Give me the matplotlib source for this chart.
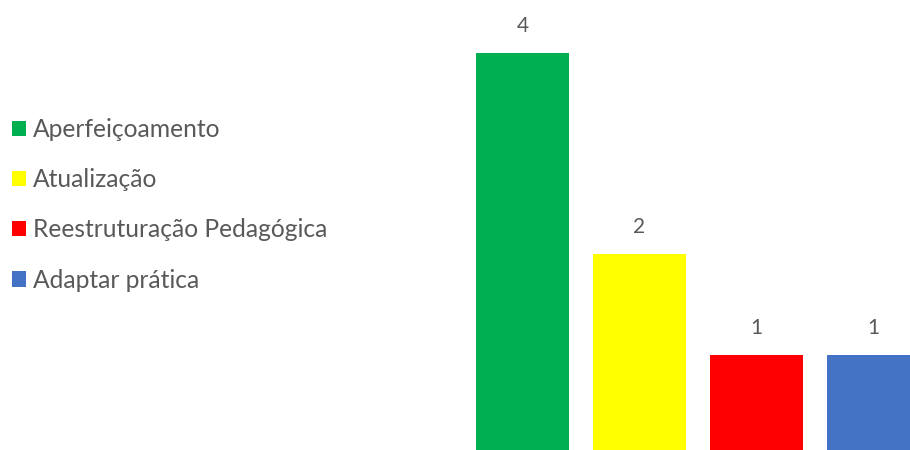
import numpy as np
import matplotlib.pyplot as plt

categories = ['Aperfeiçoamento', 'Atualização', 'Reestruturação Pedagógica', 'Adaptar prática']
counts = [4, 2, 1, 1]
colors = ['#00B050', '#FFFF00', '#FF0000', '#4472C4']

plt.rcParams['font.family'] = ['Lato', 'DejaVu Sans']

fig = plt.figure(figsize=(9.1, 4.5), dpi=100)
ax = fig.add_axes([0, 0, 1, 1])

x = np.arange(len(categories))
bars = ax.bar(x, counts, width=0.79, color=colors, label=categories)

# data labels above bars
for rect, v in zip(bars, counts):
    ax.text(rect.get_x() + rect.get_width() / 2, v + 0.27, str(v),
            ha='center', va='center', fontsize=15, color='#595959')

# place the bars where they sit in the original (cropped) chart
ax.set_xlim(-4.466, 3.312)
ax.set_ylim(0.057, 4.525)
ax.axis('off')

leg = fig.legend(handles=list(bars), labels=categories, loc='upper left',
                 bbox_to_anchor=(12 / 910, 0.738), frameon=False,
                 borderpad=0, borderaxespad=0,
                 handlelength=0.58, handleheight=0.58, handletextpad=0.29,
                 labelspacing=1.11, fontsize=17.7, labelcolor='#595959')

fig.savefig('out.png', dpi=100)
